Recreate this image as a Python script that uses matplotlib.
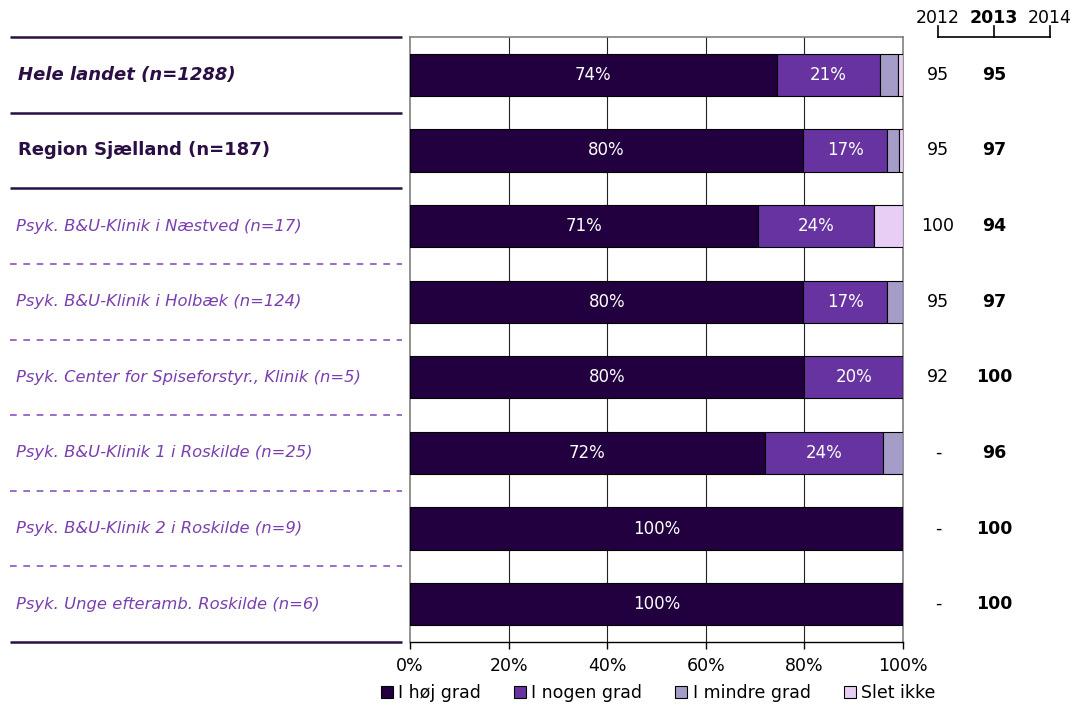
import matplotlib
matplotlib.use("Agg")
import matplotlib.pyplot as plt
from matplotlib.transforms import blended_transform_factory
from matplotlib.patches import Patch

# data
labels = [
    "Hele landet (n=1288)",
    "Region Sjælland (n=187)",
    "Psyk. B&U-Klinik i Næstved (n=17)",
    "Psyk. B&U-Klinik i Holbæk (n=124)",
    "Psyk. Center for Spiseforstyr., Klinik (n=5)",
    "Psyk. B&U-Klinik 1 i Roskilde (n=25)",
    "Psyk. B&U-Klinik 2 i Roskilde (n=9)",
    "Psyk. Unge efteramb. Roskilde (n=6)",
]
hoej = [74.4, 79.7, 70.6, 79.8, 80.0, 72.0, 100.0, 100.0]
nogen = [20.9, 17.1, 23.5, 16.9, 20.0, 24.0, 0.0, 0.0]
mindre = [3.7, 2.4, 0.0, 3.3, 0.0, 4.0, 0.0, 0.0]
slet = [1.0, 0.8, 5.9, 0.0, 0.0, 0.0, 0.0, 0.0]
y2012 = ["95", "95", "100", "95", "92", "-", "-", "-"]
y2013 = ["95", "97", "94", "97", "100", "96", "100", "100"]
years = ["2012", "2013", "2014"]
series_names = ["I høj grad", "I nogen grad", "I mindre grad", "Slet ikke"]
colors = ["#22003f", "#6633a0", "#a69cc8", "#e8cef5"]

W, H = 1072, 704
fig = plt.figure(figsize=(W / 100, H / 100), dpi=100)
ax = fig.add_axes([410 / W, 1 - 642 / H, 493 / W, 605 / H])

rows = list(range(len(labels)))
left = [0.0] * len(rows)
for vals, col in zip([hoej, nogen, mindre, slet], colors):
    ax.barh(rows, vals, left=left, height=0.56, color=col,
            edgecolor="black", linewidth=0.8, zorder=3)
    for i, v in enumerate(vals):
        if v >= 10:
            ax.text(left[i] + v / 2, i, f"{v:.0f}%", ha="center", va="center",
                    color="white", fontsize=12, zorder=4)
    left = [a + b for a, b in zip(left, vals)]

ax.set_xlim(0, 100)
ax.set_ylim(len(rows) - 0.5, -0.5)
ax.set_yticks([])
ax.set_xticks([0, 20, 40, 60, 80, 100])
ax.set_xticklabels([f"{t}%" for t in [0, 20, 40, 60, 80, 100]], fontsize=12.5)
ax.tick_params(axis="x", direction="out", length=5, width=1, color="black", pad=6)
for x in [20, 40, 60, 80]:
    ax.axvline(x, color="#222222", lw=0.8, zorder=1)
for s in ["top", "left", "right"]:
    ax.spines[s].set_color("#808080")
    ax.spines[s].set_linewidth(1.2)
ax.spines["bottom"].set_color("black")
ax.spines["bottom"].set_linewidth(1.0)

tr = blended_transform_factory(fig.transFigure, ax.transData)

# row labels and separators
for i, lab in enumerate(labels):
    if i == 0:
        ax.text(18 / W, i, lab, transform=tr, ha="left", va="center", fontsize=13,
                fontweight="bold", fontstyle="italic", color="#2a0f45")
    elif i == 1:
        ax.text(18 / W, i, lab, transform=tr, ha="left", va="center", fontsize=13,
                fontweight="bold", color="#2a0f45")
    else:
        ax.text(16 / W, i, lab, transform=tr, ha="left", va="center", fontsize=11.8,
                fontstyle="italic", color="#7a3fae")

for b in [-0.5, 0.5, 1.5, len(rows) - 0.5]:
    ax.plot([10 / W, 402 / W], [b, b], transform=tr, color="#2a0f45", lw=1.8,
            clip_on=False, solid_capstyle="butt")
for b in [2.5, 3.5, 4.5, 5.5, 6.5]:
    ax.plot([10 / W, 402 / W], [b, b], transform=tr, color="#8a55c0", lw=1.2,
            ls=(0, (4, 4)), clip_on=False)

# yearly columns
for i in rows:
    ax.text(938 / W, i, y2012[i], transform=tr, ha="center", va="center",
            fontsize=12.5, color="black")
    ax.text(994 / W, i, y2013[i], transform=tr, ha="center", va="center",
            fontsize=12.5, fontweight="bold", color="black")

for xp, yr in zip([938, 994, 1050], years):
    fig.text(xp / W, 1 - 18 / H, yr, ha="center", va="center", fontsize=12.5,
             fontweight="bold" if yr == "2013" else "normal")
fig.add_artist(plt.Line2D([938 / W, 1050 / W], [1 - 37 / H, 1 - 37 / H],
                          color="black", lw=1.2))
for xp in [938, 994, 1050]:
    fig.add_artist(plt.Line2D([xp / W, xp / W], [1 - 26 / H, 1 - 37 / H],
                              color="black", lw=1.2))

handles = [Patch(facecolor=c, edgecolor="black", linewidth=0.8) for c in colors]
fig.legend(handles, series_names, loc="center", bbox_to_anchor=(658 / W, 1 - 693 / H),
           ncol=4, frameon=False, fontsize=12.5, handlelength=0.7, handleheight=0.7,
           handletextpad=0.3, columnspacing=1.9, borderaxespad=0)

fig.savefig("out.png", dpi=100)
